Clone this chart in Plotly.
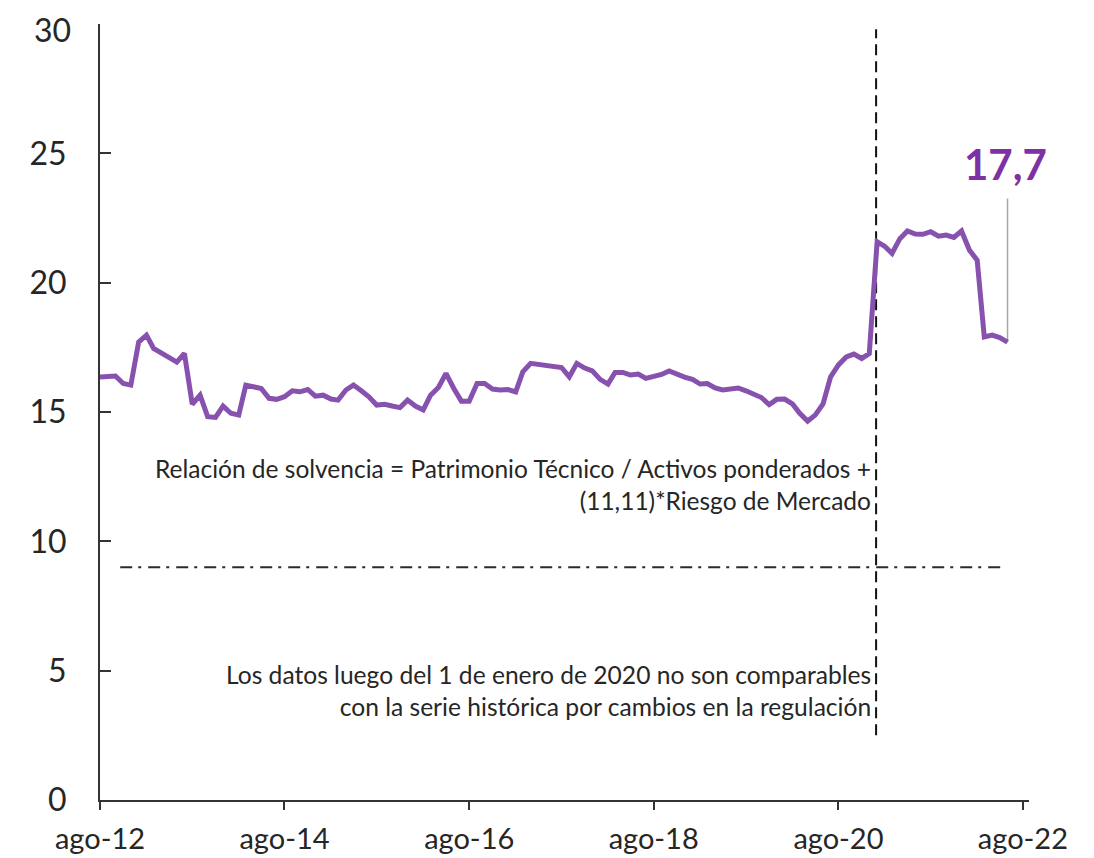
import pandas as pd
import plotly.graph_objects as go

# Monthly solvency ratio (%), Aug-2012 .. Jun-2022
start_month = "2012-08-01"
solvencia = [
    16.35, 16.39, 16.39, 16.10, 16.04, 17.70, 17.97, 17.46, 17.28, 17.10,
    16.93, 17.27, 15.30, 15.65, 14.82, 14.79, 15.23, 14.95, 14.88, 16.04,
    15.95, 15.91, 15.53, 15.49, 15.59, 15.82, 15.78, 15.87, 15.61, 15.65,
    15.50, 15.46, 15.85, 16.04, 15.82, 15.59, 15.27, 15.30, 15.23, 15.17,
    15.46, 15.23, 15.08, 15.65, 15.95, 16.49, 15.91, 15.42, 15.42, 16.10,
    16.10, 15.89, 15.85, 15.87, 15.78, 16.55, 16.88, 16.84, 16.84, 16.80,
    16.72, 16.36, 16.88, 16.70, 16.59, 16.26, 16.08, 16.53, 16.53, 16.43,
    16.47, 16.30, 16.36, 16.45, 16.59, 16.45, 16.35, 16.26, 16.08, 16.10,
    15.93, 15.85, 15.87, 15.93, 15.82, 15.69, 15.56, 15.29, 15.49, 15.50,
    15.31, 14.95, 14.65, 14.88, 15.31, 16.36, 16.82, 17.13, 17.24, 17.07,
    17.26, 21.58, 21.40, 21.13, 21.70, 22.00, 21.88, 21.87, 21.97, 21.80,
    21.84, 21.75, 22.00, 21.26, 20.87, 17.90, 17.97, 17.88, 17.70,
]
fechas = pd.date_range(start_month, periods=len(solvencia), freq="MS")

tick_dates = ["2012-08-01", "2014-08-01", "2016-08-01", "2018-08-01", "2020-08-01", "2022-08-01"]
tick_labels = ["ago-12", "ago-14", "ago-16", "ago-18", "ago-20", "ago-22"]
y_ticks = [0, 5, 10, 15, 20, 25, 30]
y_tick_labels = ["0", "5", "10", "15", "20", "25", "30"]

minimo_legal = 9
minimo_x = ["2012-10-20", "2022-05-20"]
corte_fecha = "2020-12-28"
corte_y = [2.5, 29.8]

last_label = "17,7"
nota1 = "Relación de solvencia = Patrimonio Técnico / Activos ponderados +<br>(11,11)*Riesgo de Mercado"
nota2 = "Los datos luego del 1 de enero de 2020 no son comparables<br>con la serie histórica por cambios en la regulación"

LINE_COLOR = "#8751AE"
LABEL_COLOR = "#7E30A5"
FONT = "Lato"
Y_FONT = dict(family=FONT, size=32, color="#262626")

fig = go.Figure()

# regulatory minimum (dash-dot)
fig.add_trace(go.Scatter(
    x=minimo_x, y=[minimo_legal, minimo_legal], mode="lines",
    line=dict(color="#2b2b2b", width=2, dash="12px,6px,3px,7px"),
    hoverinfo="skip", showlegend=False))

# break line (dashed vertical)
fig.add_trace(go.Scatter(
    x=[corte_fecha, corte_fecha], y=corte_y, mode="lines",
    line=dict(color="#111111", width=2, dash="11px,6px"),
    hoverinfo="skip", showlegend=False))

# leader line for the last value
fig.add_trace(go.Scatter(
    x=[fechas[-1], fechas[-1]], y=[solvencia[-1], 23.25], mode="lines",
    line=dict(color="#a6a6a6", width=1.5),
    hoverinfo="skip", showlegend=False))

# main series
fig.add_trace(go.Scatter(
    x=fechas, y=solvencia, mode="lines",
    line=dict(color=LINE_COLOR, width=5, shape="linear"),
    showlegend=False))

fig.add_annotation(x=fechas[-1], y=23.25, text=f"<b>{last_label}</b>",
                   showarrow=False, xanchor="center", yanchor="bottom",
                   xshift=-2, yshift=8,
                   font=dict(family=FONT, size=42, color=LABEL_COLOR))

fig.add_annotation(x=corte_fecha, y=12.18, text=nota1, showarrow=False,
                   xanchor="right", yanchor="middle", align="right", xshift=-3,
                   font=dict(family=FONT, size=24.5, color="#262626"))
fig.add_annotation(x=corte_fecha, y=4.25, text=nota2, showarrow=False,
                   xanchor="right", yanchor="middle", align="right", xshift=-3,
                   font=dict(family=FONT, size=24.6, color="#262626"))

# top y label drawn as annotation (the axis would hide it at the page edge)
fig.add_annotation(x=0, xref="paper", y=y_ticks[-1], yref="y",
                   text=y_tick_labels[-1], showarrow=False,
                   xanchor="right", yanchor="middle", xshift=-27, yshift=-5,
                   font=Y_FONT)

fig.update_layout(
    width=1094, height=858,
    margin=dict(l=92, r=73, t=16, b=66),
    paper_bgcolor="white", plot_bgcolor="white",
    font=dict(family=FONT, color="#262626"),
)
fig.update_xaxes(
    type="date", range=["2012-08-01", "2022-08-25"],
    tickvals=tick_dates, ticktext=tick_labels,
    ticks="outside", ticklen=8, tickwidth=1.5, tickcolor="#333333",
    showline=True, linecolor="#333333", linewidth=2,
    showgrid=False, zeroline=False, automargin=False, ticklabelstandoff=4,
    tickfont=dict(family=FONT, size=29, color="#262626"),
)
fig.update_yaxes(
    range=[0, 30], tickvals=y_ticks,
    ticktext=y_tick_labels[:-1] + [""],
    ticks="inside", ticklen=11, tickwidth=1.5, tickcolor="#333333",
    showline=True, linecolor="#333333", linewidth=2,
    showgrid=False, zeroline=False, ticklabelstandoff=25, automargin=False,
    tickfont=Y_FONT,
)

fig.write_html("out.html")
